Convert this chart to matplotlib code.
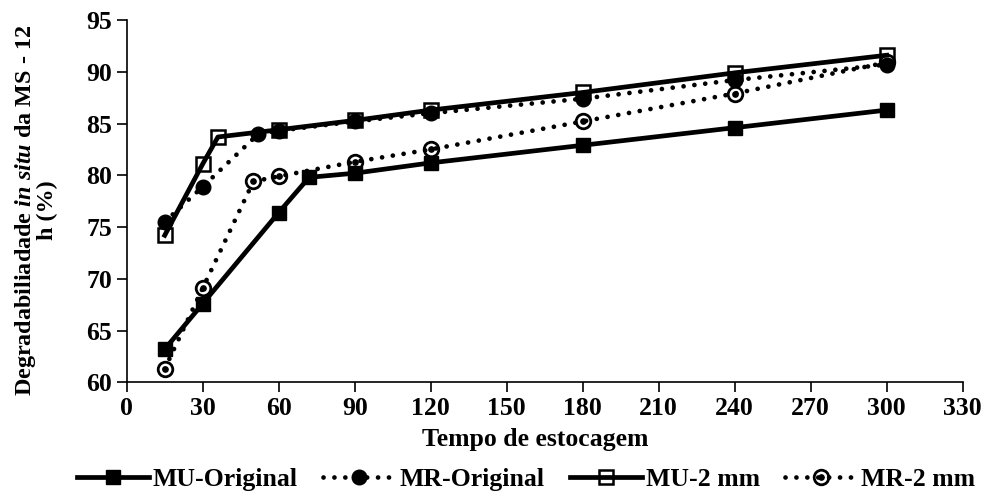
import numpy as np
import matplotlib
matplotlib.use("Agg")
import matplotlib.pyplot as plt
from matplotlib.legend_handler import HandlerTuple

# ── Data ──────────────────────────────────────────────────────────────────────
x_mu_orig = [15, 30, 60, 72, 90, 120, 180, 240, 300]
y_mu_orig = [63.2, 67.6, 76.4, 79.8, 80.2, 81.2, 82.9, 84.6, 86.3]

x_mr_orig = [15, 30, 52, 60, 90, 120, 180, 240, 300]
y_mr_orig = [75.5, 78.9, 84.0, 84.3, 85.2, 86.0, 87.4, 89.2, 90.7]

x_mu_2mm = [15, 30, 36, 60, 90, 120, 180, 240, 300]
y_mu_2mm = [74.2, 81.1, 83.7, 84.4, 85.3, 86.3, 88.0, 89.9, 91.6]

x_mr_2mm = [15, 30, 50, 60, 90, 120, 180, 240, 300]
y_mr_2mm = [61.3, 69.1, 79.4, 79.9, 81.3, 82.5, 85.2, 87.9, 90.9]

labels = ["MU-Original", "MR-Original", "MU-2 mm", "MR-2 mm"]
xticks = np.arange(0, 331, 30)
yticks = np.arange(60, 96, 5)

# ── Style ─────────────────────────────────────────────────────────────────────
FS = 18.5
plt.rcParams.update({
    "font.family": "Liberation Serif",
    "font.weight": "bold",
    "font.size": FS,
    "mathtext.fontset": "custom",
    "mathtext.rm": "Liberation Serif:bold",
    "mathtext.it": "Liberation Serif:italic:bold",
    "mathtext.bf": "Liberation Serif:bold",
})

LW = 3.4
DOT = (0, (0.01, 2.3))

fig = plt.figure(figsize=(9.87, 5.01), dpi=100)
ax = fig.add_axes([0.1284, 0.237, 0.847, 0.723])

h1, = ax.plot(x_mu_orig, y_mu_orig, color="black", lw=LW, marker="s",
              ms=10.5, mfc="black", mec="black", solid_joinstyle="miter")
h2, = ax.plot(x_mr_orig, y_mr_orig, color="black", lw=LW, ls=DOT,
              dash_capstyle="round", marker="o", ms=10.5, mfc="black", mec="black")
h3, = ax.plot(x_mu_2mm, y_mu_2mm, color="black", lw=LW, marker="s",
              ms=10.5, mfc="none", mec="black", mew=1.8)
h4, = ax.plot(x_mr_2mm, y_mr_2mm, color="black", lw=LW, ls=DOT,
              dash_capstyle="round", marker="o", ms=10.5, mfc="none",
              mec="black", mew=2.0)
h4b, = ax.plot(x_mr_2mm, y_mr_2mm, ls="none", marker="o", ms=3.8,
               mfc="black", mec="black")

ax.set_xlim(0, 330)
ax.set_ylim(60, 95)
ax.set_xticks(xticks)
ax.set_yticks(yticks)
ax.tick_params(direction="out", length=7, width=1.2, colors="black")
ax.spines["top"].set_visible(False)
ax.spines["right"].set_visible(False)
ax.spines["left"].set_linewidth(1.2)
ax.spines["bottom"].set_linewidth(1.2)

ax.set_xlabel("Tempo de estocagem", fontweight="bold")
ax.xaxis.set_label_coords(0.488, -0.125)
ax.set_ylabel("Degradabiliadade $\\mathit{in\\ situ}$ da MS - 12\nh (%)",
              fontweight="bold", fontsize=17.4, linespacing=0.92)
ax.yaxis.set_label_coords(-0.082, 0.475)

fig.legend([h1, h2, h3, (h4, h4b)], labels,
           handler_map={tuple: HandlerTuple(ndivide=1, pad=0)},
           loc="center", bbox_to_anchor=(0.533, 0.042), ncol=4, frameon=False,
           handlelength=2.8, handletextpad=0.15, columnspacing=1.0,
           borderaxespad=0)

fig.savefig("out.png", dpi=100)
